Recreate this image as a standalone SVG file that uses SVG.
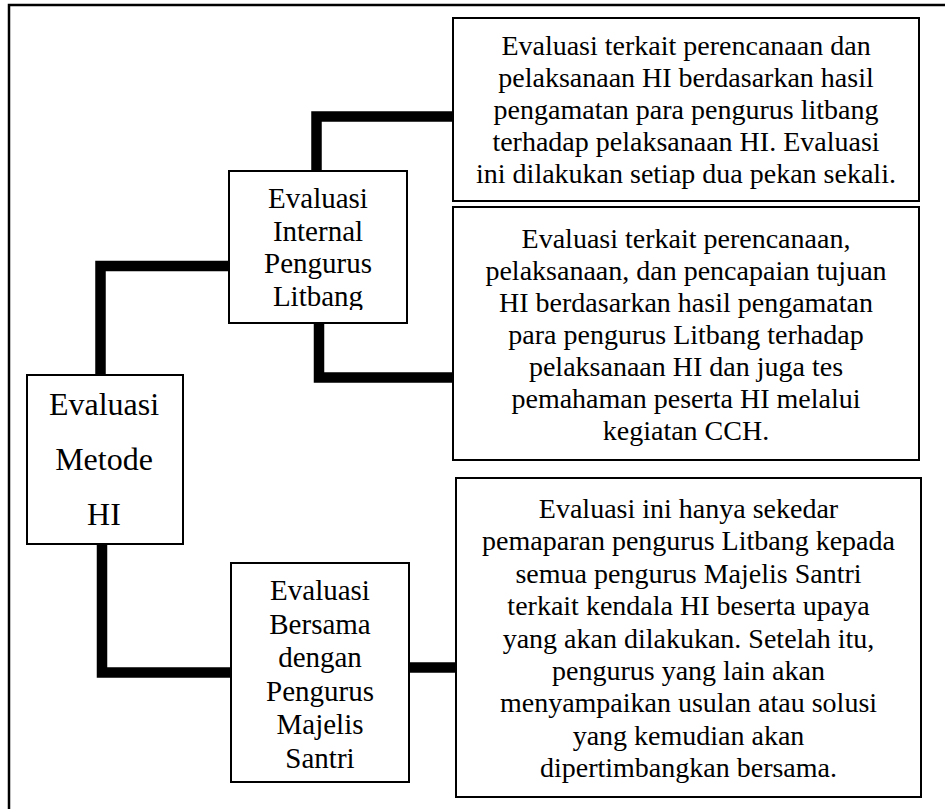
<svg xmlns="http://www.w3.org/2000/svg" width="945" height="809" viewBox="0 0 945 809">
<style>
.box{fill:#fff;stroke:#000;stroke-width:2}
.frame{fill:none;stroke:#000;stroke-width:2.5}
.conn{fill:none;stroke:#000;stroke-width:10.5;stroke-linejoin:miter;stroke-linecap:butt}
.t{font-family:"Liberation Serif","Times New Roman",serif;font-size:28px;fill:#000;text-anchor:middle}
.n{font-family:"Liberation Serif","Times New Roman",serif;font-size:29px;fill:#000;text-anchor:middle}
.m{font-family:"Liberation Serif","Times New Roman",serif;font-size:32px;fill:#000;text-anchor:middle}
</style>
<defs>
<clipPath id="clipInternal"><rect x="229" y="171" width="178" height="139"/></clipPath>
</defs>
<rect width="945" height="809" fill="#fff"/>
<path class="frame" d="M9,812 V5 H948"/>
<g id="connectors">
<polyline class="conn" points="100.5,375 100.5,266 229,266"/>
<polyline class="conn" points="316.5,171 316.5,116.5 453,116.5"/>
<polyline class="conn" points="319,323 319,377.5 456,377.5"/>
<polyline class="conn" points="102,544 102,672.5 233,672.5"/>
<polyline class="conn" points="409,667.5 458,667.5"/>
</g>
<g id="node-metode">
<rect class="box" x="27" y="375" width="156" height="169"/>
<text class="m" x="104" y="415">Evaluasi</text>
<text class="m" x="104" y="470">Metode</text>
<text class="m" x="104" y="525">HI</text>
</g>
<g id="node-internal">
<rect class="box" x="229" y="171" width="178" height="152"/>
<g clip-path="url(#clipInternal)">
<text class="n" x="318" y="208">Evaluasi</text>
<text class="n" x="318" y="240.5">Internal</text>
<text class="n" x="318" y="273">Pengurus</text>
<text class="n" x="318" y="305.5">Litbang</text>
</g>
</g>
<g id="node-bersama">
<rect class="box" x="231" y="563" width="178" height="219"/>
<text class="n" x="320" y="600">Evaluasi</text>
<text class="n" x="320" y="633.5">Bersama</text>
<text class="n" x="320" y="667">dengan</text>
<text class="n" x="320" y="700.5">Pengurus</text>
<text class="n" x="320" y="734">Majelis</text>
<text class="n" x="320" y="767.5">Santri</text>
</g>
<g id="node-desc1">
<rect class="box" x="453" y="18" width="466" height="183"/>
<text class="t" x="686" y="55">Evaluasi terkait perencanaan dan</text>
<text class="t" x="686" y="87">pelaksanaan HI berdasarkan hasil</text>
<text class="t" x="686" y="119">pengamatan para pengurus litbang</text>
<text class="t" x="686" y="151">terhadap pelaksanaan HI. Evaluasi</text>
<text class="t" x="686" y="183">ini dilakukan setiap dua pekan sekali.</text>
</g>
<g id="node-desc2">
<rect class="box" x="453" y="207" width="466" height="253"/>
<text class="t" x="686" y="248">Evaluasi terkait perencanaan,</text>
<text class="t" x="686" y="280">pelaksanaan, dan pencapaian tujuan</text>
<text class="t" x="686" y="312">HI berdasarkan hasil pengamatan</text>
<text class="t" x="686" y="344">para pengurus Litbang terhadap</text>
<text class="t" x="686" y="376">pelaksanaan HI dan juga tes</text>
<text class="t" x="686" y="408">pemahaman peserta HI melalui</text>
<text class="t" x="686" y="440">kegiatan CCH.</text>
</g>
<g id="node-desc3">
<rect class="box" x="456" y="478" width="465" height="319"/>
<text class="t" x="688.5" y="518">Evaluasi ini hanya sekedar</text>
<text class="t" x="688.5" y="550.4">pemaparan pengurus Litbang kepada</text>
<text class="t" x="688.5" y="582.8">semua pengurus Majelis Santri</text>
<text class="t" x="688.5" y="615.2">terkait kendala HI beserta upaya</text>
<text class="t" x="688.5" y="647.6">yang akan dilakukan. Setelah itu,</text>
<text class="t" x="688.5" y="680">pengurus yang lain akan</text>
<text class="t" x="688.5" y="712.4">menyampaikan usulan atau solusi</text>
<text class="t" x="688.5" y="744.8">yang kemudian akan</text>
<text class="t" x="688.5" y="777.2">dipertimbangkan bersama.</text>
</g>
</svg>
